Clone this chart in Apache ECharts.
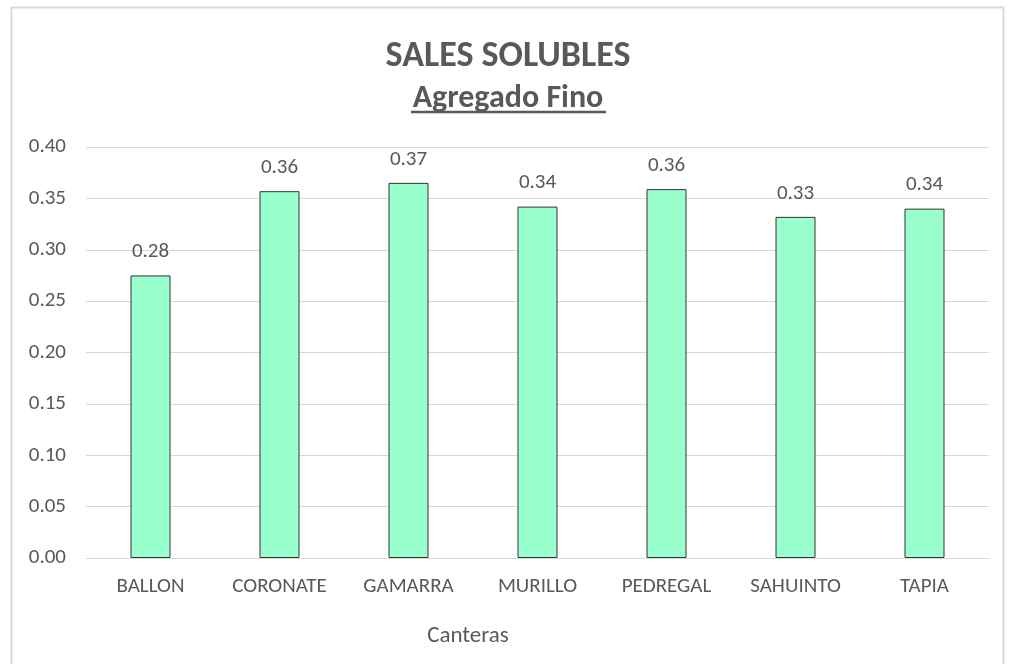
<!DOCTYPE html>
<html>
<head>
<meta charset="utf-8">
<script src="https://cdn.jsdelivr.net/npm/echarts@6/dist/echarts.min.js"></script>
<style>
  html, body { margin: 0; padding: 0; background: #fff; }
  #chart { width: 1016px; height: 664px; }
</style>
</head>
<body>
<div id="chart"></div>
<script>
const canteras = ['BALLON', 'CORONATE', 'GAMARRA', 'MURILLO', 'PEDREGAL', 'SAHUINTO', 'TAPIA']
const salesSolubles = [0.275, 0.357, 0.3651, 0.342, 0.359, 0.332, 0.340]
const yTicks = { min: 0, max: 0.4, interval: 0.05 }

const font = 'Carlito, "Liberation Sans Narrow", "Noto Sans", sans-serif'
const grey = '#595959'

const chart = echarts.init(document.getElementById('chart'))
const option = {
  backgroundColor: '#fff',
  animation: false,
  title: [
    {
      text: 'SALES SOLUBLES',
      left: 'center',
      top: 34,
      textStyle: { fontFamily: font, fontSize: 36, fontWeight: 'bold', color: grey }
    },
    {
      text: 'Agregado Fino',
      left: 'center',
      top: 78,
      textStyle: { fontFamily: font, fontSize: 32, fontWeight: 'bold', color: grey }
    },
    {
      text: 'Canteras',
      left: 463,
      top: 620,
      textAlign: 'center',
      textStyle: { fontFamily: font, fontSize: 23, fontWeight: 'normal', color: grey }
    }
  ],
  graphic: [
    {
      type: 'rect',
      shape: { x: 11.5, y: 7.5, width: 992, height: 670 },
      style: { fill: 'none', stroke: '#D9D9D9', lineWidth: 2 },
      silent: true
    },
    {
      // underline for the subtitle
      type: 'line',
      shape: { x1: 411, y1: 112, x2: 606, y2: 112 },
      style: { stroke: grey, lineWidth: 2.5 },
      silent: true
    }
  ],
  grid: { left: 86, right: 27, top: 147, bottom: 106, containLabel: false },
  xAxis: {
    type: 'category',
    data: canteras,
    axisLine: { show: true, lineStyle: { color: '#D9D9D9' } },
    axisTick: { show: false },
    axisLabel: { fontFamily: font, fontSize: 21, color: grey, margin: 18 }
  },
  yAxis: {
    type: 'value',
    min: yTicks.min,
    max: yTicks.max,
    interval: yTicks.interval,
    axisLine: { show: false },
    axisTick: { show: false },
    splitLine: { lineStyle: { color: '#D9D9D9', width: 1 } },
    axisLabel: {
      fontFamily: font, fontSize: 21, color: grey, margin: 20,
      formatter: v => v.toFixed(2)
    }
  },
  series: [
    {
      type: 'bar',
      data: salesSolubles,
      barWidth: 40,
      itemStyle: { color: '#99FFCC', borderColor: '#333333', borderWidth: 1 },
      label: {
        show: true,
        position: 'top',
        distance: 13,
        fontFamily: font,
        fontSize: 21,
        color: grey,
        formatter: p => p.value.toFixed(2)
      }
    }
  ]
}
chart.setOption(option)
</script>
</body>
</html>
